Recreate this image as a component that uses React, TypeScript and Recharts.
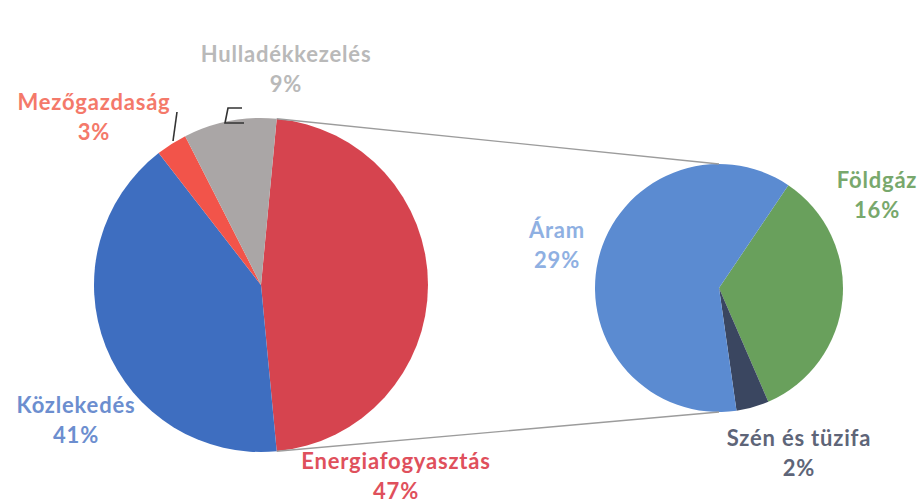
import { PieChart, Pie, Cell } from 'recharts'

// main pie: share of emissions by sector
const mainNames = ['Energiafogyasztás', 'Közlekedés', 'Mezőgazdaság', 'Hulladékkezelés']
const mainValues = [47, 41, 3, 9]

// secondary pie: split of Energiafogyasztás
const subNames = ['Földgáz', 'Szén és tüzifa', 'Áram']
const subValues = [16, 2, 29]

const mainColors = ['#d6444f', '#3e6ec0', '#f2544a', '#aaa6a6']
const mainLabelColors = ['#df505c', '#6c8ecf', '#f4796a', '#b9b9b9']
const subColors = ['#69a05c', '#3a4660', '#5b8bd1']
const subLabelColors = ['#78a86c', '#5e6578', '#8fb0e2']

const W = 920
const H = 504
const MAIN = { cx: 261, cy: 285, r: 167 }
const SUB = { cx: 719, cy: 288, r: 124 }
const FONT = 'Lato, "Open Sans", sans-serif'

// text centre x, baseline of first line
const labelPos: Record<string, [number, number]> = {
  'Energiafogyasztás': [396, 469],
  'Közlekedés': [76, 413],
  'Mezőgazdaság': [94, 110],
  'Hulladékkezelés': [286, 62],
  'Földgáz': [877, 188],
  'Szén és tüzifa': [799, 446],
  'Áram': [557, 238],
}

const mainData = mainNames.map((name, i) => ({ name, value: mainValues[i] }))
const subData = subNames.map((name, i) => ({ name, value: subValues[i] }))

// the split slice is centred on 3 o'clock, like Excel's pie of pie
const mainStart = (mainValues[0] / mainValues.reduce((a, b) => a + b, 0)) * 180
const subStart = 56

function makeLabel(colors: string[]) {
  return (props: any) => {
    const pos = labelPos[props.name]
    if (!pos) return null
    return (
      <text
        x={pos[0]}
        y={pos[1]}
        textAnchor="middle"
        fill={colors[props.index]}
        fontFamily={FONT}
        fontWeight={700}
        fontSize={22}
        letterSpacing={0.8}
      >
        <tspan x={pos[0]} y={pos[1]}>{props.name}</tspan>
        <tspan x={pos[0]} y={pos[1] + 30}>{props.value}%</tspan>
      </text>
    )
  }
}

function Overlay() {
  const a = (mainStart * Math.PI) / 180
  const top = [MAIN.cx + MAIN.r * Math.cos(a), MAIN.cy - MAIN.r * Math.sin(a)]
  const bottom = [MAIN.cx + MAIN.r * Math.cos(a), MAIN.cy + MAIN.r * Math.sin(a)]
  return (
    <svg width={W} height={H} style={{ position: 'absolute', left: 0, top: 0, pointerEvents: 'none' }}>
      <line x1={top[0]} y1={top[1]} x2={SUB.cx} y2={SUB.cy - SUB.r} stroke="#9c9c9c" strokeWidth={1.3} />
      <line x1={bottom[0]} y1={bottom[1]} x2={SUB.cx} y2={SUB.cy + SUB.r} stroke="#9c9c9c" strokeWidth={1.3} />
      {/* leader lines of the two small slices */}
      <path d="M177,112 L173,141" stroke="#333" strokeWidth={1.6} fill="none" />
      <path d="M242,108 L228,108 L225,123 L244,123" stroke="#333" strokeWidth={1.6} fill="none" />
    </svg>
  )
}

export default function App() {
  return (
    <div style={{ position: 'absolute', left: 0, top: 0, width: W, height: H, background: '#fff' }}>
      <PieChart width={W} height={H} margin={{ top: 0, right: 0, bottom: 0, left: 0 }}>
        <Pie
          data={mainData}
          dataKey="value"
          nameKey="name"
          cx={MAIN.cx}
          cy={MAIN.cy}
          outerRadius={MAIN.r}
          startAngle={mainStart}
          endAngle={mainStart - 360}
          stroke="none"
          label={makeLabel(mainLabelColors)}
          labelLine={false}
          isAnimationActive={false}
        >
          {mainData.map((d, i) => (
            <Cell key={d.name} fill={mainColors[i]} />
          ))}
        </Pie>
        <Pie
          data={subData}
          dataKey="value"
          nameKey="name"
          cx={SUB.cx}
          cy={SUB.cy}
          outerRadius={SUB.r}
          startAngle={subStart}
          endAngle={subStart - 360}
          stroke="none"
          label={makeLabel(subLabelColors)}
          labelLine={false}
          isAnimationActive={false}
        >
          {subData.map((d, i) => (
            <Cell key={d.name} fill={subColors[i]} />
          ))}
        </Pie>
      </PieChart>
      <Overlay />
    </div>
  )
}
